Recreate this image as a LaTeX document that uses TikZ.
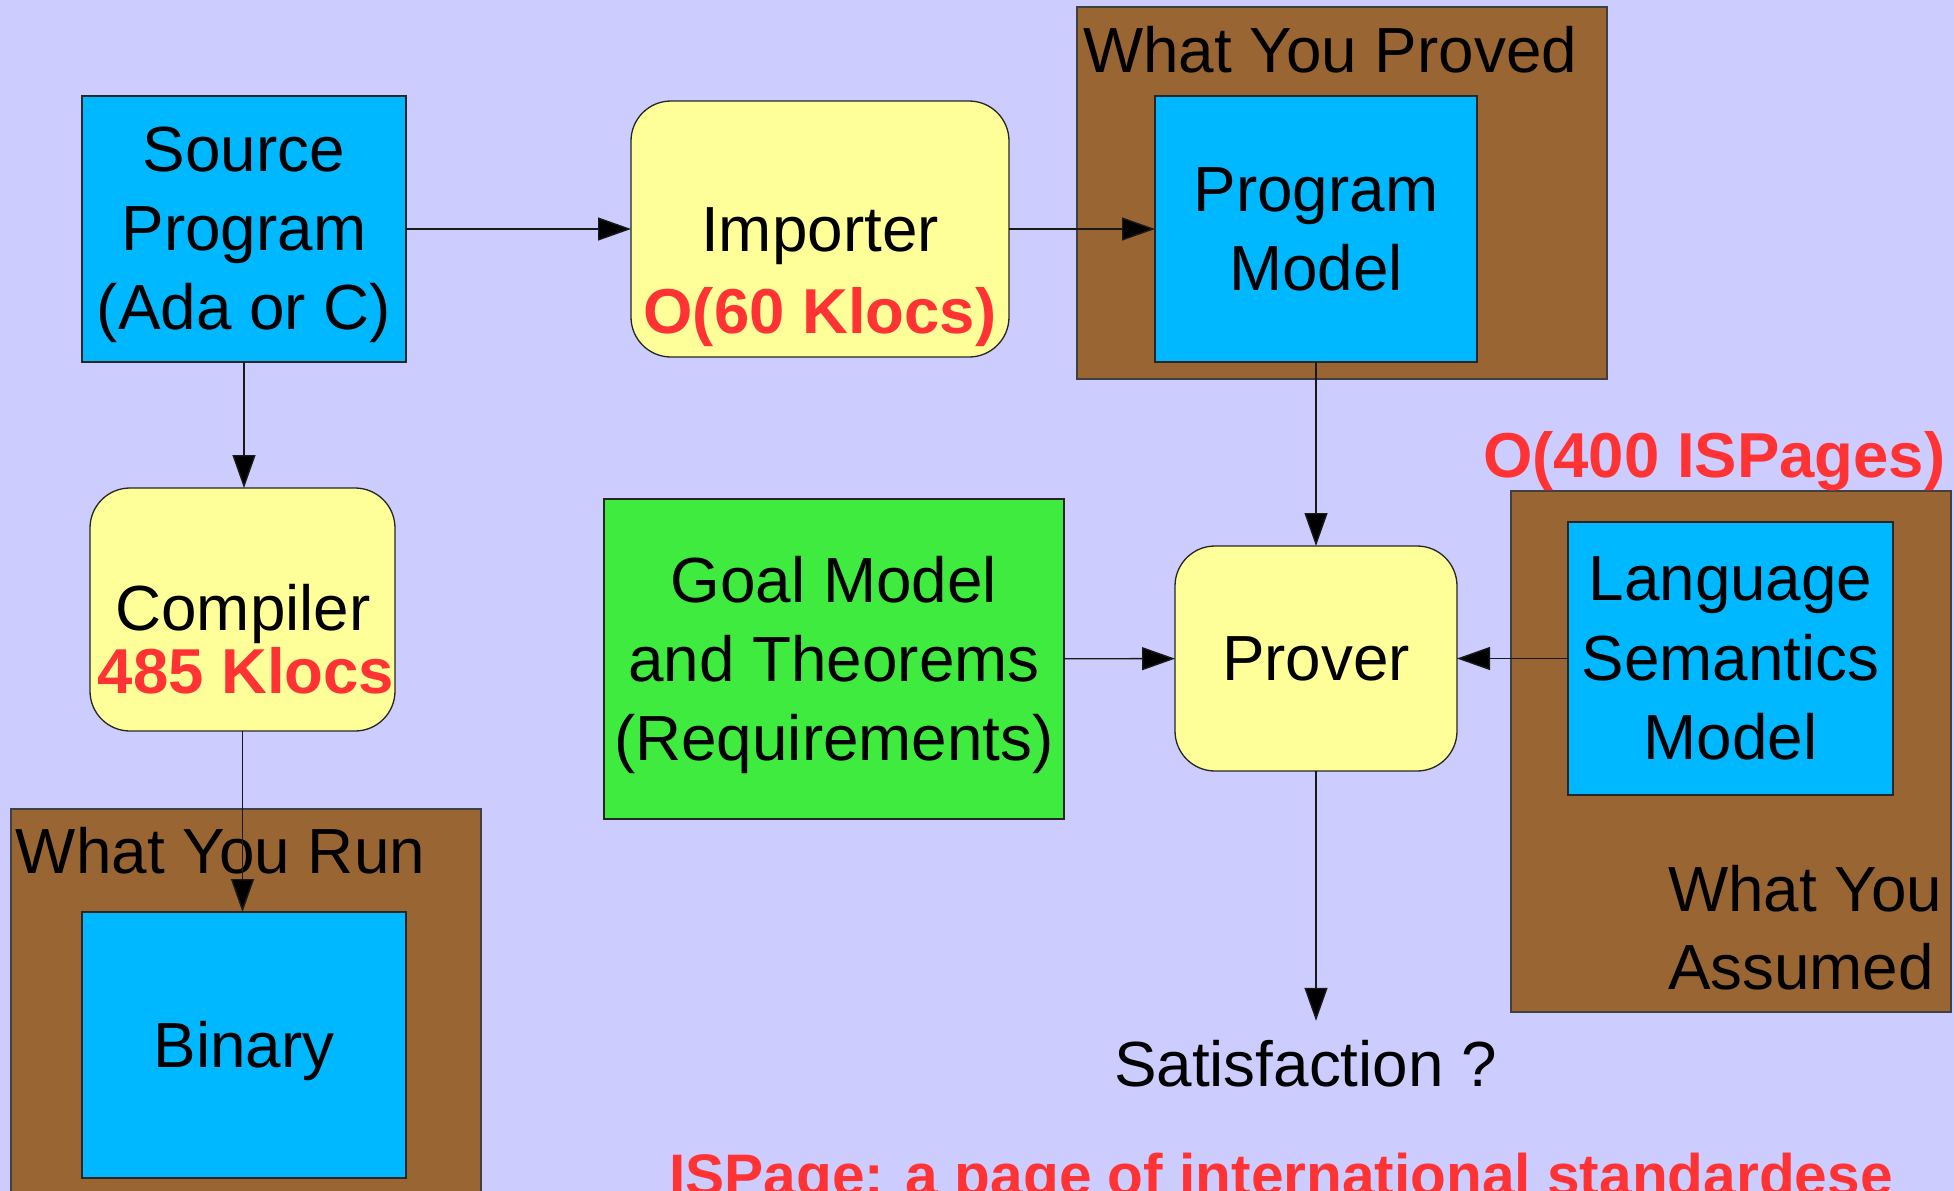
\documentclass[tikz,border=0pt]{standalone}
\usepackage{fontspec}
\setmainfont{Liberation Sans}
\usetikzlibrary{arrows.meta}
\definecolor{bgcol}{HTML}{CCCCFF}
\definecolor{bluebox}{HTML}{00B8FF}
\definecolor{yellowbox}{HTML}{FFFF99}
\definecolor{brownbox}{HTML}{996633}
\definecolor{greenbox}{HTML}{3EEB3E}
\definecolor{redtxt}{HTML}{FF3333}
\begin{document}
\begin{tikzpicture}[x=1pt,y=-1pt,
  bx/.style={draw=black!85, line width=1.3pt, inner sep=0pt, outer sep=0pt},
  bluebx/.style={bx, fill=bluebox},
  brownbx/.style={bx, draw=black!75, fill=brownbox},
  yellowbx/.style={bx, fill=yellowbox, rounded corners=40pt},
  greenbx/.style={bx, fill=greenbox},
  txt/.style={inner sep=0pt, outer sep=0pt, font=\fontsize{63.8}{79}\selectfont, text=black},
  redt/.style={inner sep=0pt, outer sep=0pt, font=\fontsize{63.5}{79}\selectfont\bfseries, text=redtxt},
  conn/.style={draw=black!90, line width=1.4pt, -{Triangle[length=33pt,width=23pt,fill=black]}}
]
\clip (0,0) rectangle (1954,1191);
\fill[bgcol] (0,0) rectangle (1954,1191);

% containers
\node[brownbx, minimum width=530pt, minimum height=372pt] (proved) at (1342,193) {};
\node[brownbx, minimum width=470pt, minimum height=421pt] (run) at (246,1019.5) {};
\node[brownbx, minimum width=440pt, minimum height=521pt] (assumed) at (1731,751.5) {};

% boxes
\node[bluebx, minimum width=324pt, minimum height=266pt] (src) at (244,229) {};
\node[yellowbx, minimum width=378pt, minimum height=256pt] (imp) at (820,229) {};
\node[bluebx, minimum width=322pt, minimum height=266pt] (pm) at (1316,229) {};
\node[yellowbx, minimum width=305pt, minimum height=243pt] (comp) at (242.5,609.5) {};
\node[bluebx, minimum width=324pt, minimum height=266pt] (bin) at (244,1045) {};
\node[greenbx, minimum width=460pt, minimum height=320pt] (goal) at (834,659) {};
\node[yellowbx, minimum width=282pt, minimum height=225pt] (prover) at (1316,658.5) {};
\node[bluebx, minimum width=325pt, minimum height=273pt] (lang) at (1730.5,658.5) {};

% texts
\node[txt, anchor=base] (srcA) at (244,171) {Source};
\node[txt, anchor=base] (srcB) at (244,250) {Program};
\node[txt, anchor=base] (srcC) at (244,329) {(Ada or C)};
\node[txt, anchor=base] (impA) at (820,251) {Importer};
\node[redt, anchor=base] (impB) at (820,333) {O(60 Klocs)};
\node[txt, anchor=base west] (provedT) at (1083,72) {What You Proved};
\node[txt, anchor=base] (pmA) at (1316,211) {Program};
\node[txt, anchor=base] (pmB) at (1316,290) {Model};
\node[txt, anchor=base] (compA) at (243,630) {Compiler};
\node[redt, anchor=base] (compB) at (246,693) {485 Klocs};
\node[txt, anchor=base west] (runT) at (16,873) {What You Run};
\node[txt, anchor=base] (binT) at (244,1067) {Binary};
\node[txt, anchor=base] (goalA) at (834,602) {Goal Model};
\node[txt, anchor=base] (goalB) at (834,681) {and Theorems};
\node[txt, anchor=base] (goalC) at (834,760) {(Requirements)};
\node[txt, anchor=base] (proverT) at (1316,680) {Prover};
\node[txt, anchor=base] (langA) at (1730.5,600) {Language};
\node[txt, anchor=base] (langB) at (1730.5,680) {Semantics};
\node[txt, anchor=base] (langC) at (1730.5,759) {Model};
\node[txt, anchor=base west] (assA) at (1668,911) {What You};
\node[txt, anchor=base west] (assB) at (1668,989) {Assumed};
\node[redt, anchor=base west] (isp) at (1483,477) {O(400 ISPages)};
\node[txt, anchor=base west] (sat) at (1114,1086) {Satisfaction ?};
\node[redt, font=\fontsize{58.6}{70}\selectfont\bfseries, anchor=base] (note) at (1281,1195) {ISPage: a page of international standardese};

% connectors
\draw[conn] (src) -- (imp);
\draw[conn] (imp) -- (pm);
\draw[conn] (src.south) -- (src.south |- comp.north);
\draw[conn] (comp.south) -- (comp.south |- bin.north);
\draw[conn] (pm) -- (prover);
\draw[conn] (goal) -- (prover);
\draw[conn] (lang) -- (prover);
\draw[conn, shorten >=19pt] (prover.south) -- (prover.south |- sat.north);
\end{tikzpicture}
\end{document}
